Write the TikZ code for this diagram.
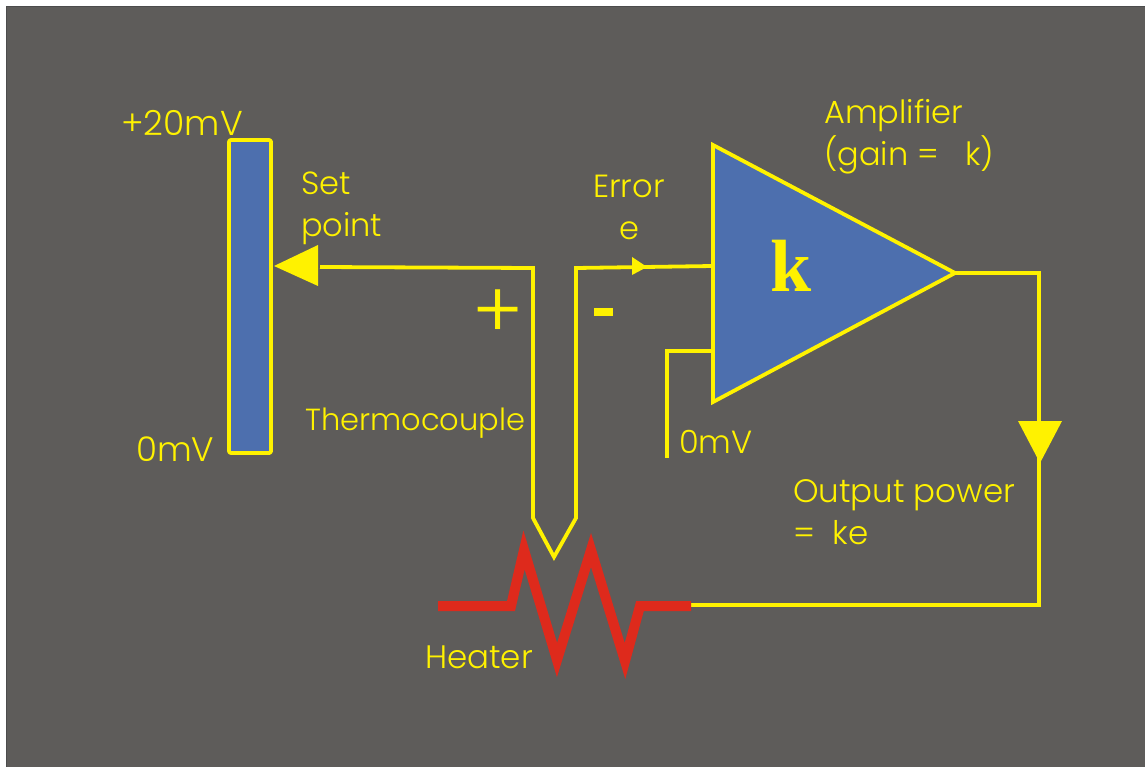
\documentclass[tikz,border=0pt]{standalone}
\usepackage{fontspec}
\setmainfont{Poppins}[UprightFont=* Light]
\newfontfamily\kfont{Liberation Serif}
\definecolor{panelgrey}{HTML}{5E5C5A}
\definecolor{wireyellow}{HTML}{FFF200}
\definecolor{fillblue}{HTML}{4D6FAE}
\definecolor{heaterred}{HTML}{DE2A1C}
\begin{document}
\begin{tikzpicture}[
        x=1pt, y=-1pt,
        wire/.style={line width=3.8pt, draw=wireyellow, line join=miter},
        heater/.style={line width=10pt, draw=heaterred, line join=miter, miter limit=20},
        solid part/.style={line width=3.8pt, draw=wireyellow, fill=fillblue, line join=round},
        tip/.style={fill=wireyellow, draw=none},
        label/.style={text=wireyellow, font=\fontsize{#1}{42}\selectfont, inner sep=0pt, align=left},
        label/.default=32
    ]
        \useasboundingbox (0,0) rectangle (1145,767);
        \fill[white] (0,0) rectangle (1145,767);
        \draw[fill=panelgrey, draw=black!70, line width=1pt] (6.5,6.5) rectangle (1146,768);

        % set point bar
        \node[solid part, rounded corners=2pt, minimum width=42pt, minimum height=313pt, inner sep=0pt] (bar) at (250,296.5) {};

        % amplifier
        \coordinate (amp_top) at (713,145);
        \coordinate (amp_out) at (955,273);
        \coordinate (amp_bot) at (713,402);
        \draw[solid part, line join=miter] (amp_top) -- (amp_out) -- (amp_bot) -- cycle;
        \node[text=wireyellow, font=\kfont\bfseries\fontsize{74}{74}\selectfont, inner sep=0pt] (gain) at (791,266) {k};

        % thermocouple
        \coordinate (tc_left) at (320,267);
        \coordinate (tc_a) at (533,268);
        \coordinate (tc_b) at (533,518);
        \coordinate (tc_tip) at (554,557);
        \coordinate (tc_c) at (576,518);
        \coordinate (tc_d) at (576,268);
        \coordinate (amp_in) at (713,266);
        \draw[wire] (tc_left) -- (tc_a) -- (tc_b) -- (tc_tip) -- (tc_c) -- (tc_d) -- (amp_in);

        % 0mV input
        \coordinate (zero_a) at (713,351);
        \coordinate (zero_b) at (667,351);
        \coordinate (zero_c) at (667,458);
        \draw[wire] (zero_a) -- (zero_b) -- (zero_c);

        % output
        \coordinate (out_a) at (1039,273);
        \coordinate (out_b) at (1039,605);
        \coordinate (heat_r) at (691,605);
        \draw[wire] (amp_out) -- (out_a) -- (out_b) -- (heat_r);

        % heater
        \coordinate (heat_l) at (438,606);
        \draw[heater] (heat_l) -- (511,606) -- (524,550) -- (557,660) -- (591,550) -- (625,661) -- (640,606) -- (691,606);

        % arrow heads
        \fill[tip] (274,266) -- (318,245) -- (318,286) -- cycle;
        \fill[tip] (647,267) -- (632,257) -- (632,275) -- cycle;
        \fill[tip] (1040,463) -- (1018,421) -- (1062,421) -- cycle;

        % labels
        \node[label=34.5, anchor=west] (top_mv) at (121,123) {+20mV};
        \node[label=34, anchor=west] (low_mv) at (136,449) {0mV};
        \node[label, anchor=west] (set_pt) at (301,208) {Set\\point};
        \node[label, anchor=west] (amp_lbl) at (824,137) {Amplifier\\(gain =\ \ \ k)};
        \node[label, align=center] (err_lbl) at (629,207) {Error\\e};
        \node[label=30.5, anchor=west] (tc_lbl) at (305,423) {Thermocouple};
        \node[label, anchor=west] (zero_lbl) at (679,442) {0mV};
        \node[label=32.5, anchor=west] (out_lbl) at (793,512) {Output power\\=\ \ ke};
        \node[label=32.5, anchor=west] (heat_lbl) at (425,657) {Heater};
        \node[text=wireyellow, font=\fontsize{78}{78}\selectfont, inner sep=0pt] (plus) at (498,314) {+};
        \fill[tip] (594,308) rectangle (613,316);
    \end{tikzpicture}
\end{document}
